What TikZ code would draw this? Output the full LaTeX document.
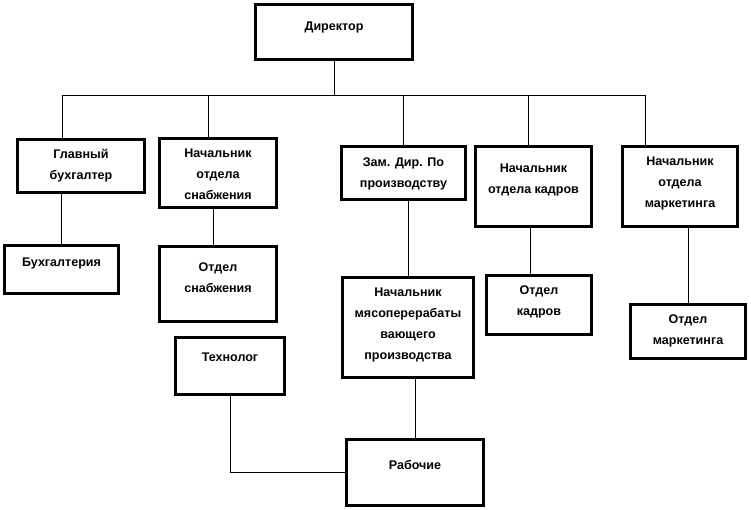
\documentclass[tikz,border=0pt]{standalone}
\usepackage{fontspec}
\setmainfont{Liberation Sans}
\usetikzlibrary{positioning}

\begin{document}
\begin{tikzpicture}[x=0.75pt,y=-0.75pt,
    unit/.style={draw,rectangle,line width=2pt,inner sep=0pt},
    caption/.style={inner sep=0pt,align=center,font=\bfseries\fontsize{9.4}{15.75}\selectfont},
    link/.style={line width=0.6pt}]
  \useasboundingbox (0,0) rectangle (751,510);

  % boxes
  \node [unit,minimum width=117.75pt,minimum height=41.25pt] (dir) at (334,32) {};
  \node [unit,minimum width=95.25pt,minimum height=39.75pt] (gb) at (81,166) {};
  \node [unit,minimum width=87.75pt,minimum height=51.75pt] (ns) at (218,173) {};
  \node [unit,minimum width=93pt,minimum height=39.75pt] (zam) at (403.5,173) {};
  \node [unit,minimum width=87pt,minimum height=60pt] (nk) at (533.5,186.5) {};
  \node [unit,minimum width=86.25pt,minimum height=60pt] (nm) at (680,186.5) {};
  \node [unit,minimum width=85.5pt,minimum height=36pt] (buh) at (61.5,269.5) {};
  \node [unit,minimum width=87.75pt,minimum height=56.25pt] (os) at (218,284) {};
  \node [unit,minimum width=81.75pt,minimum height=42.75pt] (tech) at (230,366) {};
  \node [unit,minimum width=98.25pt,minimum height=75pt] (mp) at (408,327.5) {};
  \node [unit,minimum width=102.75pt,minimum height=49.5pt] (rab) at (415,472.5) {};
  \node [unit,minimum width=78.75pt,minimum height=44.25pt] (ok) at (539,305) {};
  \node [unit,minimum width=86.25pt,minimum height=40.5pt] (om) at (688,331.5) {};

  % texts
  \node [caption,below=14pt of dir.north] (dir-t) {Директор};
  \node [caption,below=8pt of gb.north] (gb-t) {Главный\\бухгалтер};
  \node [caption,below=8.8pt of ns.north] (ns-t) {Начальник\\отдела\\снабжения};
  \node [caption,below=9.2pt of zam.north] (zam-t) {Зам. Дир. По\\производству};
  \node [caption,below=14pt of nk.north] (nk-t) {Начальник\\отдела кадров};
  \node [caption,below=8.8pt of nm.north] (nm-t) {Начальник\\отдела\\маркетинга};
  \node [caption,below=10.3pt of buh.north] (buh-t) {Бухгалтерия};
  \node [caption,below=13.3pt of os.north] (os-t) {Отдел\\снабжения};
  \node [caption,below=12.5pt of tech.north] (tech-t) {Технолог};
  \node [caption,below=8.8pt of mp.north] (mp-t) {Начальник\\мясоперерабаты\\вающего\\производства};
  \node [caption,below=16.3pt of rab.north] (rab-t) {Рабочие};
  \node [caption,below=8.8pt of ok.north] (ok-t) {Отдел\\кадров};
  \node [caption,below=8.8pt of om.north] (om-t) {Отдел\\маркетинга};

  % bus under the director
  \coordinate (b1) at (62,95);
  \coordinate (b2) at (208,95);
  \coordinate (b3) at (403,95);
  \coordinate (b4) at (528,95);
  \coordinate (b5) at (645,95);

  \draw [link] (dir.south) -- (dir.south |- b1);
  \draw [link] (b1) -- (b5);
  \draw [link] (b1) -- (b1 |- gb.north);
  \draw [link] (b2) -- (b2 |- ns.north);
  \draw [link] (b3) -- (b3 |- zam.north);
  \draw [link] (b4) -- (b4 |- nk.north);
  \draw [link] (b5) -- (b5 |- nm.north);

  \draw [link] (buh.north |- gb.south) -- (buh.north);
  \draw [link] (ns.south -| 213,0) -- (os.north -| 213,0);
  \draw [link] (zam.south -| mp.north) -- (mp.north);
  \draw [link] (nk.south -| 530,0) -- (ok.north -| 530,0);
  \draw [link] (nm.south -| om.north) -- (om.north);
  \draw [link] (mp.south -| rab.north) -- (rab.north);
  \draw [link] (tech.south) |- (rab.west);
\end{tikzpicture}
\end{document}
